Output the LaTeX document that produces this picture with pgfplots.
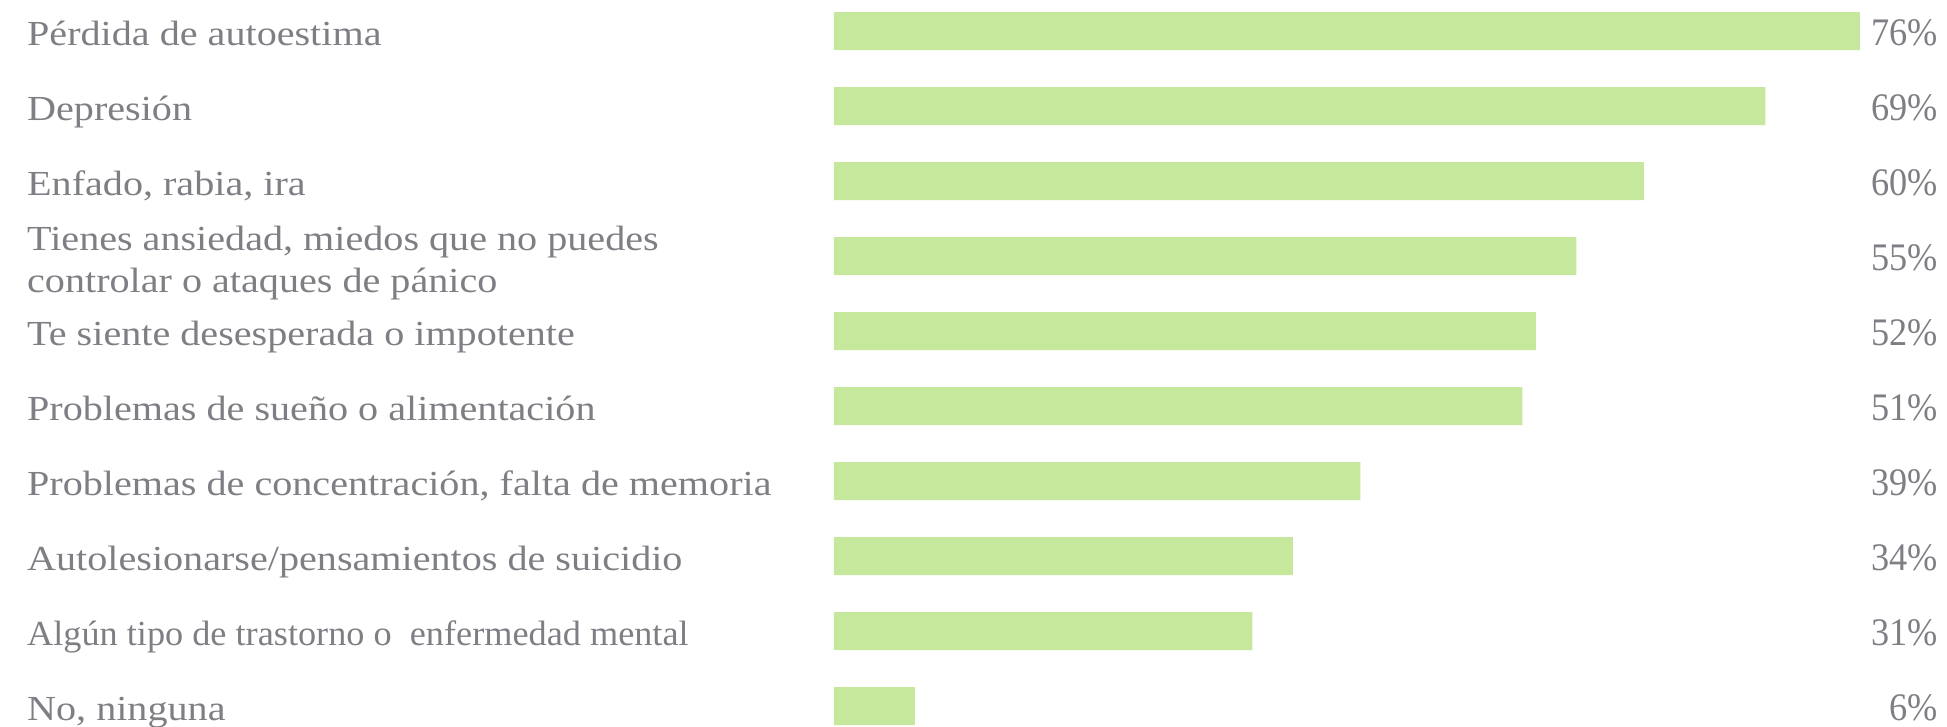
\documentclass[border=0pt]{standalone}
\usepackage{fontspec}
\setmainfont{Liberation Serif}
\newfontfamily\labelfont[FakeStretch=1.14]{Liberation Serif}
\newfontfamily\labelfontB[FakeStretch=1.03]{Liberation Serif}
\newfontfamily\valfont[FakeStretch=0.93]{Liberation Serif}
\usepackage{pgfplots}
\usepackage{pgfplotstable}
\pgfplotsset{compat=1.18}
\definecolor{barcol}{RGB}{197,232,157}
\definecolor{txtgray}{RGB}{126,127,132}
\pgfplotstableread{
y value
0 76
1 69
2 60
3 55
4 52
5 51
6 39
7 34
8 31
9 6
}\datatable
\begin{document}
\begin{tikzpicture}
\begin{axis}[
  scale only axis,
  width=1104pt, height=726pt,
  xmin=0, xmax=81.7778,
  ymin=-0.41333, ymax=9.26667,
  y dir=reverse,
  axis line style={draw=none},
  major tick length=0pt,
  xtick=\empty,
  ytick={0,1,2,3,4,5,6,7,8,9},
  yticklabels={
    {Pérdida de autoestima},
    {Depresión},
    {Enfado, rabia, ira},
    {\raisebox{20pt}{\begin{tabular}[t]{@{}l@{}}Tienes ansiedad, miedos que no puedes\\controlar o ataques de pánico\end{tabular}}},
    {Te siente desesperada o impotente},
    {Problemas de sueño o alimentación},
    {Problemas de concentración, falta de memoria},
    {Autolesionarse/pensamientos de suicidio},
    {\labelfontB Algún tipo de trastorno o\ \ enfermedad mental},
    {No, ninguna}},
  yticklabel style={font=\labelfont\fontsize{35.2}{42}\selectfont, anchor=base west, inner sep=0pt, xshift=-807pt, yshift=-14pt, text=txtgray},
  clip=false,
]
\addplot[xbar, bar width=38pt, fill=barcol, draw=none] table[x=value, y=y] {\datatable};
\addplot[draw=none, mark=none,
  point meta=explicit symbolic,
  nodes near coords={\pgfplotspointmeta\%},
  nodes near coords style={anchor=base east, inner sep=0pt, yshift=-14pt, font=\valfont\fontsize{39}{42}\selectfont, text=txtgray}]
  table[x expr=81.7778, y=y, meta=value] {\datatable};
\end{axis}
\pgfresetboundingbox
\path[use as bounding box] (-834pt,0pt) rectangle (1113pt,726pt);
\end{tikzpicture}
\end{document}
